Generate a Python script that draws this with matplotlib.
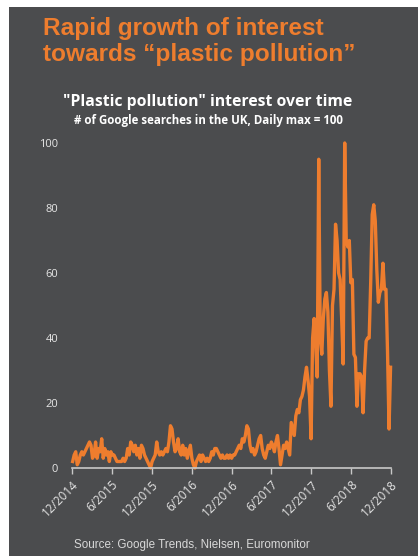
import matplotlib.pyplot as plt
import matplotlib.dates as mdates
from matplotlib.patches import Rectangle
import pandas as pd

# weekly Google Trends index for "plastic pollution" (UK), Dec 2014 - Dec 2018
interest = [
    2, 4, 5, 1, 2, 4, 5, 4, 5, 6, 7, 8, 7, 3, 4, 8, 3, 6, 5, 9, 3, 6, 4, 5, 2, 5,
    4, 4, 3, 2, 2, 2, 2, 3, 2, 3, 6, 4, 8, 7, 5, 7, 4, 6, 3, 7, 6, 4, 3, 2, 1, 0,
    2, 3, 4, 8, 5, 4, 5, 4, 5, 6, 5, 8, 13, 12, 8, 5, 6, 9, 5, 4, 7, 4, 6, 3, 5, 7,
    3, 1, 0, 2, 3, 4, 2, 4, 3, 2, 3, 2, 3, 5, 4, 6, 6, 5, 4, 3, 4, 3, 3, 4, 3, 4,
    3, 4, 4, 5, 6, 7, 6, 9, 8, 10, 13, 12, 7, 5, 6, 4, 5, 7, 9, 10, 6, 4, 3, 5, 7, 6,
    8, 7, 5, 8, 10, 6, 1, 4, 7, 6, 8, 6, 4, 14, 12, 10, 16, 18, 17, 21, 22, 24, 28, 31, 27, 22,
    9, 40, 46, 38, 28, 95, 40, 35, 46, 52, 54, 48, 30, 19, 50, 55, 75, 70, 60, 58, 46, 32,
    100, 70, 68, 70, 57, 58, 35, 34, 19, 29, 29, 28, 17, 30, 39, 40, 40, 57, 78, 81, 76, 61,
    51, 54, 55, 63, 55, 55, 36, 12, 31,
]
weeks = pd.date_range("2014-12-04", periods=len(interest), freq="7D")

tick_dates = pd.to_datetime(["2014-12-01", "2015-06-01", "2015-12-01", "2016-06-01",
                             "2016-12-01", "2017-06-01", "2017-12-01", "2018-06-01",
                             "2018-12-01"])
tick_labels = ["12/2014", "6/2015", "12/2015", "6/2016", "12/2016",
               "6/2017", "12/2017", "6/2018", "12/2018"]
y_ticks = [0, 20, 40, 60, 80, 100]

W, H = 418, 556
bg = "#4b4c4e"
orange = "#ee7d2e"

fig = plt.figure(figsize=(W / 100, H / 100), dpi=100, facecolor="white")
fig.patches.append(Rectangle((9 / W, 0), 1 - 9 / W, 1 - 7 / H, transform=fig.transFigure,
                             facecolor=bg, edgecolor="none", zorder=-1))

def px(x, y):
    return x / W, 1 - y / H

fig.text(*px(43, 35), "Rapid growth of interest", color=orange, fontsize=17.6,
         fontweight="bold", family="Liberation Sans", va="baseline")
fig.text(*px(43, 61), "towards \u201cplastic pollution\u201d", color=orange, fontsize=17.6,
         fontweight="bold", family="Liberation Sans", va="baseline")
fig.text(*px(208, 106), '"Plastic pollution" interest over time', color="white",
         fontsize=11.3, fontweight="bold", family="Open Sans", ha="center", va="baseline")
fig.text(*px(208, 124), "# of Google searches in the UK, Daily max = 100", color="white",
         fontsize=8.3, fontweight="bold", family="Open Sans", ha="center", va="baseline")
fig.text(*px(74, 548), "Source: Google Trends, Nielsen, Euromonitor", color="#d8d8d8",
         fontsize=8.4, family="Liberation Sans", va="baseline")

ax = fig.add_axes([72 / W, 1 - 468 / H, 319 / W, 325 / H])
ax.set_facecolor("none")
ax.plot(weeks, interest, color=orange, lw=2.4, solid_joinstyle="round", clip_on=False)

ax.set_xlim(tick_dates[0], tick_dates[-1])
ax.set_ylim(0, 100)
ax.set_xticks(tick_dates)
ax.set_xticklabels(tick_labels, rotation=45, ha="right", rotation_mode="anchor")
ax.set_yticks(y_ticks)
for s in ["top", "right", "left"]:
    ax.spines[s].set_visible(False)
ax.spines["bottom"].set_color("#c8c8c8")
ax.spines["bottom"].set_linewidth(1.2)
ax.tick_params(axis="x", colors="#c8c8c8", length=4, width=1, labelcolor="#e6e6e6",
               labelsize=8.5, pad=3)
ax.tick_params(axis="y", length=0, labelcolor="#e6e6e6", labelsize=8, pad=10)
for lab in ax.get_xticklabels() + ax.get_yticklabels():
    lab.set_family("Open Sans")

fig.savefig("out.png", dpi=100, facecolor="white")
